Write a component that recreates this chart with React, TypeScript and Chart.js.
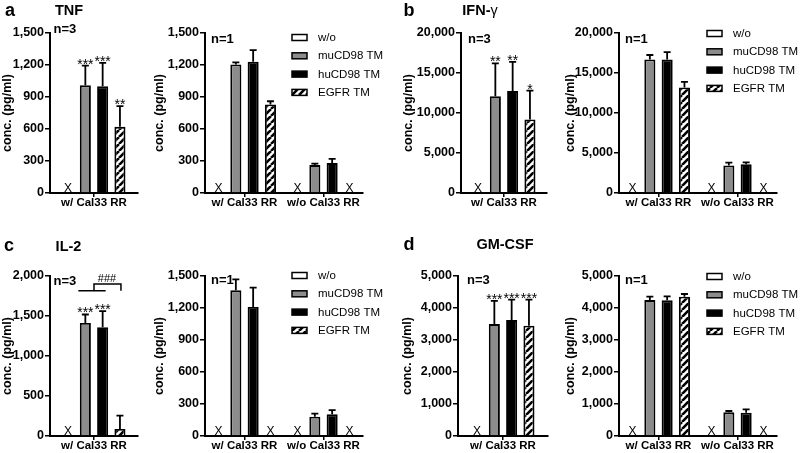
import React, { useEffect, useRef } from 'react';
import { Chart, registerables } from 'chart.js';

Chart.register(...registerables);

const FONT = "'Liberation Sans', Arial, Helvetica, sans-serif";

// ---------- data ----------
const SERIES = ['w/o', 'muCD98 TM', 'huCD98 TM', 'EGFR TM'];
const CAT_N3 = ['w/ Cal33 RR'];
const CAT_N1 = ['w/ Cal33 RR', 'w/o Cal33 RR'];

// TNF
const TNF_TICKS = [0, 300, 600, 900, 1200, 1500];
const TNF_N3_MEAN: (number | null)[][] = [[null], [1010], [1000], [620]];
const TNF_N3_ERR = [[0], [185], [220], [195]];
const TNF_N3_SIG = [[''], ['***'], ['***'], ['**']];
const TNF_N1_MEAN: (number | null)[][] = [[null, null], [1205, 262], [1230, 281], [830, null]];
const TNF_N1_ERR = [[0, 0], [20, 13], [110, 38], [30, 0]];

// IFN-gamma
const IFN_TICKS = [0, 5000, 10000, 15000, 20000];
const IFN_N3_MEAN: (number | null)[][] = [[null], [12100], [12750], [9200]];
const IFN_N3_ERR = [[0], [4100], [3650], [3600]];
const IFN_N3_SIG = [[''], ['**'], ['**'], ['*']];
const IFN_N1_MEAN: (number | null)[][] = [[null, null], [16700, 3450], [16700, 3600], [13200, null]];
const IFN_N1_ERR = [[0, 0], [550, 350], [900, 230], [700, 0]];

// IL-2
const IL2_N3_TICKS = [0, 500, 1000, 1500, 2000];
const IL2_N1_TICKS = [0, 300, 600, 900, 1200, 1500];
const IL2_N3_MEAN: (number | null)[][] = [[null], [1414], [1360], [88]];
const IL2_N3_ERR = [[0], [105], [200], [167]];
const IL2_N3_SIG = [[''], ['***'], ['***'], ['']];
const IL2_N1_MEAN: (number | null)[][] = [[null, null], [1366, 181], [1210, 203], [null, null]];
const IL2_N1_ERR = [[0, 0], [103, 28], [181, 40], [0, 0]];

// GM-CSF
const GM_TICKS = [0, 1000, 2000, 3000, 4000, 5000];
const GM_N3_MEAN: (number | null)[][] = [[null], [3500], [3625], [3448]];
const GM_N3_ERR = [[0], [720], [635], [812]];
const GM_N3_SIG = [[''], ['***'], ['***'], ['***']];
const GM_N1_MEAN: (number | null)[][] = [[null, null], [4250, 740], [4240, 729], [4354, null]];
const GM_N1_ERR = [[0, 0], [104, 41], [125, 104], [83, 0]];

// ---------- layout ----------
type Spec = {
  key: string;
  canvasLeft: number;
  axisX: number;
  areaRight: number;
  canvasRight: number;
  areaTop: number;
  areaBottom: number;
  categories: string[];
  means: (number | null)[][];
  errs: number[][];
  sig?: string[][];
  ticks: number[];
  nLabel: string;
  nDx: number;
  nDy: number;
  legend?: { boxX: number; textX: number; dy: number };
  bracket?: { label: string; low: number; high: number; text: number };
};

const PAD_TOP = 22;
const X_AXIS_H = 24;
const SLOT = 17.3;

const SPECS: Spec[] = [
  {
    key: 'aL', canvasLeft: 0, axisX: 50, areaRight: 138, canvasRight: 146, areaTop: 33, areaBottom: 193,
    categories: CAT_N3, means: TNF_N3_MEAN, errs: TNF_N3_ERR, sig: TNF_N3_SIG, ticks: TNF_TICKS,
    nLabel: 'n=3', nDx: 3.5, nDy: -3.5,
  },
  {
    key: 'aR', canvasLeft: 152, axisX: 205, areaRight: 363, canvasRight: 398, areaTop: 33, areaBottom: 193,
    categories: CAT_N1, means: TNF_N1_MEAN, errs: TNF_N1_ERR, ticks: TNF_TICKS,
    nLabel: 'n=1', nDx: 6, nDy: 6, legend: { boxX: 292, textX: 318, dy: 4.5 },
  },
  {
    key: 'bL', canvasLeft: 401, axisX: 461, areaRight: 547, canvasRight: 556, areaTop: 33, areaBottom: 193,
    categories: CAT_N3, means: IFN_N3_MEAN, errs: IFN_N3_ERR, sig: IFN_N3_SIG, ticks: IFN_TICKS,
    nLabel: 'n=3', nDx: 7, nDy: 6,
  },
  {
    key: 'bR', canvasLeft: 563, axisX: 619, areaRight: 777, canvasRight: 800, areaTop: 33, areaBottom: 193,
    categories: CAT_N1, means: IFN_N1_MEAN, errs: IFN_N1_ERR, ticks: IFN_TICKS,
    nLabel: 'n=1', nDx: 6, nDy: 6, legend: { boxX: 707, textX: 733, dy: 0.5 },
  },
  {
    key: 'cL', canvasLeft: 0, axisX: 50, areaRight: 138, canvasRight: 146, areaTop: 276, areaBottom: 436,
    categories: CAT_N3, means: IL2_N3_MEAN, errs: IL2_N3_ERR, sig: IL2_N3_SIG, ticks: IL2_N3_TICKS,
    nLabel: 'n=3', nDx: 3.5, nDy: 5,
    bracket: { label: '###', low: 1815, high: 1900, text: 1965 },
  },
  {
    key: 'cR', canvasLeft: 152, axisX: 205, areaRight: 363, canvasRight: 398, areaTop: 276, areaBottom: 436,
    categories: CAT_N1, means: IL2_N1_MEAN, errs: IL2_N1_ERR, ticks: IL2_N1_TICKS,
    nLabel: 'n=1', nDx: 6, nDy: 4.5, legend: { boxX: 292, textX: 318, dy: -0.5 },
  },
  {
    key: 'dL', canvasLeft: 400, axisX: 458, areaRight: 548, canvasRight: 556, areaTop: 276, areaBottom: 436,
    categories: CAT_N3, means: GM_N3_MEAN, errs: GM_N3_ERR, sig: GM_N3_SIG, ticks: GM_TICKS,
    nLabel: 'n=3', nDx: 9, nDy: 4.5,
  },
  {
    key: 'dR', canvasLeft: 563, axisX: 619, areaRight: 777, canvasRight: 800, areaTop: 276, areaBottom: 436,
    categories: CAT_N1, means: GM_N1_MEAN, errs: GM_N1_ERR, ticks: GM_TICKS,
    nLabel: 'n=1', nDx: 6, nDy: 4.5, legend: { boxX: 707, textX: 733, dy: 0.5 },
  },
];

function hatchPattern(): CanvasPattern | string {
  const c = document.createElement('canvas');
  const s = 7;
  c.width = s;
  c.height = s;
  const g = c.getContext('2d');
  if (!g) return '#ffffff';
  g.fillStyle = '#ffffff';
  g.fillRect(0, 0, s, s);
  g.strokeStyle = '#000000';
  g.lineWidth = 2.6;
  g.beginPath();
  for (const o of [-s, 0, s]) {
    g.moveTo(o, s);
    g.lineTo(o + s, 0);
  }
  g.stroke();
  return g.createPattern(c, 'repeat') || '#ffffff';
}

function annotPlugin(spec: Spec) {
  return {
    id: 'annot_' + spec.key,
    afterDatasetsDraw(chart: any) {
      const ctx: CanvasRenderingContext2D = chart.ctx;
      const yS = chart.scales.y;
      const area = chart.chartArea;
      ctx.save();
      ctx.fillStyle = '#000';
      ctx.strokeStyle = '#000';
      spec.means.forEach((series, di) => {
        const meta = chart.getDatasetMeta(di);
        series.forEach((v, j) => {
          const el: any = meta.data[j];
          if (!el) return;
          const x = el.x;
          if (v === null) {
            ctx.font = `12px ${FONT}`;
            ctx.textAlign = 'center';
            ctx.textBaseline = 'alphabetic';
            ctx.fillText('X', x, area.bottom - 1.5);
            return;
          }
          const e = spec.errs[di][j] || 0;
          const yv = yS.getPixelForValue(v);
          const yt = yS.getPixelForValue(v + e);
          if (e > 0) {
            ctx.lineWidth = 1.8;
            ctx.beginPath();
            ctx.moveTo(x, yv);
            ctx.lineTo(x, yt);
            ctx.moveTo(x - 3.5, yt);
            ctx.lineTo(x + 3.5, yt);
            ctx.stroke();
          }
          const s = spec.sig && spec.sig[di] ? spec.sig[di][j] : '';
          if (s) {
            ctx.font = `14px ${FONT}`;
            ctx.textAlign = 'center';
            ctx.textBaseline = 'alphabetic';
            ctx.fillText(s, x, yt + 3);
          }
        });
      });

      if (spec.bracket) {
        const b = spec.bracket;
        const mu = chart.getDatasetMeta(1).data[0].x;
        const hu = chart.getDatasetMeta(2).data[0].x;
        const eg = chart.getDatasetMeta(3).data[0].x;
        const yLow = yS.getPixelForValue(b.low);
        const yHigh = yS.getPixelForValue(b.high);
        const mid = (mu + hu) / 2;
        ctx.lineWidth = 1.5;
        ctx.beginPath();
        ctx.moveTo(mu - 7, yLow);
        ctx.lineTo(hu + 3, yLow);
        ctx.moveTo(mid, yLow);
        ctx.lineTo(mid, yHigh);
        ctx.lineTo(eg + 1, yHigh);
        ctx.lineTo(eg + 1, yLow);
        ctx.stroke();
        ctx.font = `11px ${FONT}`;
        ctx.textAlign = 'center';
        ctx.textBaseline = 'middle';
        ctx.fillText(b.label, (mid + eg) / 2, yS.getPixelForValue(b.text));
      }

      // n label
      ctx.font = `bold 13px ${FONT}`;
      ctx.textAlign = 'left';
      ctx.textBaseline = 'middle';
      ctx.fillText(spec.nLabel, area.left + spec.nDx, area.top + spec.nDy);

      // legend
      if (spec.legend) {
        const L = spec.legend;
        chart.data.datasets.forEach((ds: any, i: number) => {
          const cy = area.top + L.dy + i * 18.3;
          const bx = L.boxX - spec.canvasLeft;
          ctx.fillStyle = ds.backgroundColor;
          ctx.fillRect(bx, cy - 3, 15, 6);
          ctx.lineWidth = 1.5;
          ctx.strokeStyle = '#000';
          ctx.strokeRect(bx, cy - 3, 15, 6);
          ctx.fillStyle = '#000';
          ctx.font = `11.5px ${FONT}`;
          ctx.textAlign = 'left';
          ctx.textBaseline = 'middle';
          ctx.fillText(ds.label, L.textX - spec.canvasLeft, cy + 0.5);
        });
      }
      ctx.restore();
    },
  };
}

function Panel({ spec }: { spec: Spec }) {
  const ref = useRef<HTMLCanvasElement>(null);
  const w = spec.canvasRight - spec.canvasLeft;
  const top = spec.areaTop - PAD_TOP;
  const h = spec.areaBottom + X_AXIS_H - top;

  useEffect(() => {
    const canvas = ref.current;
    if (!canvas) return;
    const hatch = hatchPattern();
    const colors: any[] = ['#ffffff', '#8c8c8c', '#000000', hatch];
    const catWidth = (spec.areaRight - spec.axisX) / spec.categories.length;
    const catPct = Math.min(1, (4 * SLOT) / catWidth);
    const chart = new Chart(canvas, {
      type: 'bar',
      data: {
        labels: spec.categories,
        datasets: SERIES.map((label, i) => ({
          label,
          data: spec.means[i] as any,
          backgroundColor: colors[i],
          borderColor: '#000000',
          borderWidth: 1.9,
          barPercentage: 0.64,
          categoryPercentage: catPct,
        })),
      },
      options: {
        responsive: false,
        animation: false,
        devicePixelRatio: 1,
        events: [],
        color: '#000',
        layout: { padding: { top: PAD_TOP, left: 0, bottom: 0, right: spec.canvasRight - spec.areaRight } },
        plugins: { legend: { display: false }, tooltip: { enabled: false }, title: { display: false } },
        scales: {
          x: {
            type: 'category',
            offset: true,
            grid: { display: true, drawOnChartArea: false, drawTicks: true, tickLength: 4, offset: false, color: '#000', lineWidth: 1.5 },
            border: { display: true, color: '#000', width: 2 },
            ticks: {
              autoSkip: false, maxRotation: 0, minRotation: 0, padding: 0, color: '#000',
              font: { family: FONT, size: 11.5, weight: 'bold', lineHeight: 1 },
            },
            afterFit: (s: any) => { s.height = X_AXIS_H; },
          },
          y: {
            min: 0,
            max: spec.ticks[spec.ticks.length - 1],
            afterBuildTicks: (s: any) => { s.ticks = spec.ticks.map((v) => ({ value: v })); },
            grid: { display: true, drawOnChartArea: false, drawTicks: true, tickLength: 5, color: '#000', lineWidth: 1.5 },
            border: { display: true, color: '#000', width: 2 },
            ticks: {
              padding: 1, color: '#000',
              font: { family: FONT, size: 12.5, weight: 'bold' },
              callback: (v: any) => Number(v).toLocaleString('en-US'),
            },
            title: {
              display: true, text: 'conc. (pg/ml)', color: '#000',
              font: { family: FONT, size: 12.5, weight: 'bold', lineHeight: 1.2 },
              padding: { top: 0, bottom: 0 },
            },
            afterFit: (s: any) => { s.width = spec.axisX - spec.canvasLeft; },
          },
        },
      } as any,
      plugins: [annotPlugin(spec)],
    });
    return () => chart.destroy();
  }, [spec]);

  return (
    <canvas
      ref={ref}
      width={w}
      height={h}
      style={{ position: 'absolute', left: spec.canvasLeft, top, width: w, height: h }}
    />
  );
}

const LABELS = [
  { text: 'a', x: 10, y: 10, size: 18 },
  { text: 'b', x: 409, y: 10, size: 18 },
  { text: 'c', x: 9, y: 245, size: 18 },
  { text: 'd', x: 409, y: 244, size: 18 },
];

const TITLES = [
  { text: 'TNF', x: 69, y: 10 },
  { text: 'IFN-', greek: 'γ', x: 480, y: 10 },
  { text: 'IL-2', x: 68.5, y: 245.5 },
  { text: 'GM-CSF', x: 505, y: 244 },
];

export default function App() {
  return (
    <div style={{ position: 'absolute', left: 0, top: 0, width: 800, height: 453, background: '#fff', overflow: 'hidden', fontFamily: FONT, color: '#000' }}>
      {SPECS.map((s) => <Panel key={s.key} spec={s} />)}
      {LABELS.map((l) => (
        <div key={l.text} style={{ position: 'absolute', left: l.x, top: l.y, transform: 'translate(-50%, -50%)', fontWeight: 'bold', fontSize: l.size, lineHeight: 1 }}>{l.text}</div>
      ))}
      {TITLES.map((t) => (
        <div key={t.text} style={{ position: 'absolute', left: t.x, top: t.y, transform: 'translate(-50%, -50%)', fontWeight: 'bold', fontSize: 14.5, lineHeight: 1, whiteSpace: 'nowrap' }}>
          {t.text}{t.greek ? <span style={{ fontWeight: 'normal' }}>{t.greek}</span> : null}
        </div>
      ))}
    </div>
  );
}
